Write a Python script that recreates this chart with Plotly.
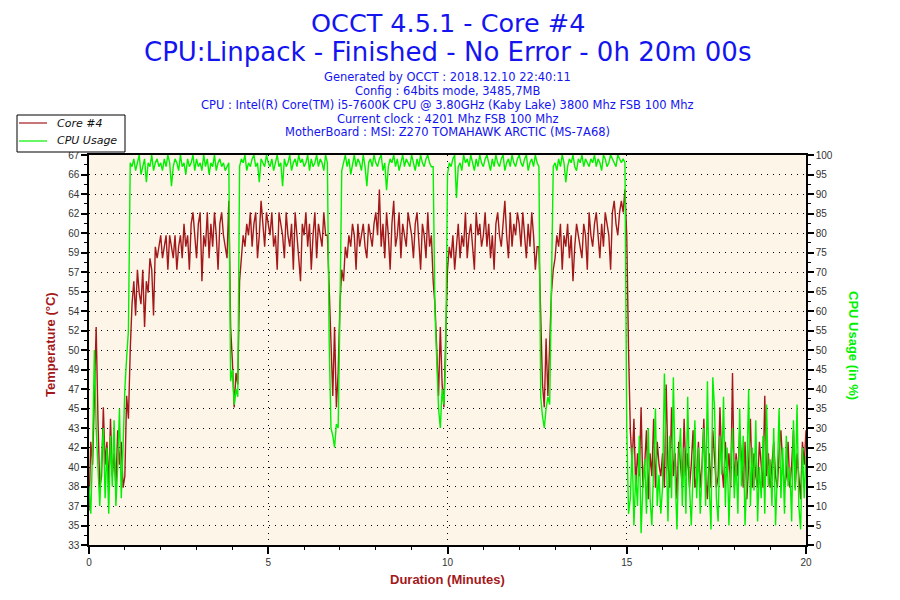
import plotly.graph_objects as go

# ---------------- data (one sample every 0.05 minute, one row = one minute) ----------------
SAMPLE_STEP_MIN = 0.05

core_temp = [
    36, 42, 40, 45, 52, 44, 38, 39, 45, 40, 42, 38, 44, 39, 41, 38, 43, 40, 42, 38,   # 0
    39, 46, 44, 50, 54, 56, 53, 57, 55, 54, 57, 52, 56, 55, 58, 57, 53, 59, 58, 59,   # 1
    60, 58, 59, 60, 57, 60, 59, 58, 60, 57, 59, 60, 58, 61, 59, 60, 57, 61, 62, 60,   # 2
    58, 61, 62, 56, 60, 59, 62, 58, 61, 59, 62, 60, 57, 61, 62, 60, 59, 58, 63, 52,   # 3
    49, 45, 48, 47, 56, 58, 60, 59, 61, 60, 62, 59, 61, 62, 58, 60, 63, 61, 59, 62,   # 4
    61, 60, 62, 59, 60, 57, 62, 61, 60, 58, 62, 60, 59, 61, 57, 62, 60, 58, 56, 61,   # 5
    60, 62, 59, 61, 57, 60, 62, 58, 61, 60, 59, 62, 60, 60, 55, 50, 46, 52, 45, 48,   # 6
    54, 57, 56, 59, 58, 60, 59, 61, 60, 57, 61, 59, 60, 61, 59, 58, 61, 60, 59, 61,   # 7
    62, 60, 64, 59, 61, 58, 62, 60, 57, 61, 63, 59, 60, 62, 58, 61, 60, 59, 62, 61,   # 8
    60, 58, 61, 62, 59, 57, 61, 60, 58, 62, 59, 60, 56, 54, 50, 46, 52, 47, 45, 51,   # 9
    57, 59, 58, 60, 57, 59, 61, 58, 60, 59, 62, 58, 60, 61, 59, 57, 62, 60, 61, 59,   # 10
    60, 62, 59, 61, 58, 60, 57, 61, 62, 60, 59, 61, 63, 60, 58, 62, 59, 61, 60, 62,   # 11
    61, 59, 62, 60, 58, 61, 59, 62, 60, 57, 59, 59, 52, 47, 45, 51, 46, 50, 55, 57,   # 12
    58, 60, 59, 61, 57, 60, 59, 61, 58, 60, 56, 59, 61, 60, 59, 58, 61, 60, 57, 62,   # 13
    60, 59, 61, 62, 60, 58, 61, 59, 62, 61, 60, 57, 62, 63, 61, 60, 62, 63, 62, 64,   # 14
    60, 50, 43, 40, 44, 38, 41, 39, 45, 38, 40, 43, 37, 41, 39, 44, 38, 42, 40, 39,   # 15
    41, 38, 47, 40, 38, 45, 39, 41, 37, 42, 40, 38, 44, 39, 41, 38, 40, 43, 38, 39,   # 16
    42, 38, 40, 44, 39, 37, 41, 38, 43, 40, 38, 39, 45, 40, 38, 42, 39, 41, 38, 48,   # 17
    38, 41, 39, 43, 40, 38, 42, 37, 40, 44, 38, 41, 39, 38, 42, 40, 38, 46, 39, 41,   # 18
    38, 40, 42, 39, 38, 41, 43, 40, 38, 39, 42, 38, 40, 43, 38, 41, 39, 37, 42, 40,   # 19
    43,                                                                               # 20
]

cpu_usage = [
    15, 8, 25, 50, 30, 18, 10, 22, 30, 12, 25, 8, 28, 15, 32, 10, 20, 35, 12, 25,     # 0
    40, 48, 55, 98, 97, 99, 96, 98, 100, 95, 97, 99, 93, 98, 97, 100, 96, 98, 99, 97,  # 1
    98, 96, 99, 97, 100, 98, 92, 97, 99, 98, 96, 100, 97, 98, 95, 99, 97, 98, 100, 96, # 2
    99, 97, 98, 96, 100, 97, 99, 95, 98, 97, 100, 96, 98, 99, 97, 98, 96, 97, 98, 42,  # 3
    45, 36, 40, 38, 97, 99, 98, 100, 96, 98, 97, 99, 100, 97, 98, 93, 99, 98, 97, 100, # 4
    98, 97, 99, 96, 98, 100, 97, 98, 92, 99, 97, 98, 100, 96, 98, 99, 97, 100, 98, 99, # 5
    97, 98, 100, 96, 99, 97, 98, 100, 97, 99, 98, 96, 100, 98, 52, 30, 28, 25, 31, 30, # 6
    60, 96, 98, 100, 97, 99, 95, 98, 100, 97, 99, 98, 96, 100, 97, 92, 98, 99, 97, 100,# 7
    98, 97, 99, 100, 96, 98, 91, 97, 99, 98, 100, 97, 99, 96, 98, 100, 97, 99, 98, 97, # 8
    100, 98, 96, 99, 97, 100, 98, 97, 99, 100, 98, 97, 97, 60, 45, 35, 30, 40, 36, 48, # 9
    95, 98, 97, 99, 100, 89, 97, 98, 96, 100, 98, 99, 97, 100, 98, 96, 99, 97, 100, 98,# 10
    97, 99, 100, 98, 96, 99, 97, 100, 98, 97, 99, 100, 96, 98, 99, 97, 100, 98, 97, 99,# 11
    100, 98, 97, 99, 100, 96, 98, 99, 97, 100, 98, 97, 38, 33, 30, 35, 38, 36, 70, 97, # 12
    98, 96, 99, 97, 100, 98, 93, 97, 99, 98, 100, 97, 96, 99, 98, 100, 97, 99, 98, 97, # 13
    99, 98, 100, 97, 99, 98, 96, 100, 99, 97, 98, 100, 99, 98, 97, 100, 99, 98, 99, 98,# 14
    30, 8, 12, 25, 5, 18, 10, 28, 3, 15, 22, 8, 30, 12, 5, 20, 35, 10, 18, 8,          # 15
    15, 44, 20, 6, 28, 12, 43, 18, 4, 22, 30, 10, 25, 8, 38, 15, 5, 20, 32, 12,        # 16
    25, 8, 18, 30, 10, 42, 15, 4, 43, 35, 12, 6, 28, 18, 38, 10, 25, 5, 20, 30,        # 17
    12, 22, 8, 35, 15, 28, 5, 18, 40, 10, 25, 14, 32, 6, 20, 12, 28, 8, 36, 15,        # 18
    22, 10, 30, 5, 18, 35, 12, 25, 8, 28, 15, 20, 6, 32, 14, 36, 10, 4, 25, 12,        # 19
    23,                                                                               # 20
]

series_names = ["Core #4", "CPU Usage"]

temp_tick_labels = ["33", "35", "37", "38", "40", "42", "43", "45", "47", "49", "50",
                    "52", "54", "55", "57", "59", "60", "62", "64", "66", "67"]
TEMP_MIN, TEMP_MAX = 33, 67

title_lines = ["OCCT 4.5.1 - Core #4",
               "CPU:Linpack - Finished - No Error - 0h 20m 00s"]
info_lines = ["Generated by OCCT : 2018.12.10 22:40:11",
              "Config : 64bits mode, 3485,7MB",
              "CPU : Intel(R) Core(TM) i5-7600K CPU @ 3.80GHz (Kaby Lake) 3800 Mhz FSB 100 Mhz",
              "Current clock : 4201 Mhz FSB 100 Mhz",
              "MotherBoard : MSI: Z270 TOMAHAWK ARCTIC (MS-7A68)"]

# ---------------- figure ----------------
minutes_t = [round(i * SAMPLE_STEP_MIN, 2) for i in range(len(core_temp))]
minutes_c = [round(i * SAMPLE_STEP_MIN, 2) for i in range(len(cpu_usage))]

n_int = len(temp_tick_labels) - 1
step = (TEMP_MAX - TEMP_MIN) / n_int
temp_tickvals = [TEMP_MIN + k * step for k in range(n_int + 1)]
temp_minor = [TEMP_MIN + (k + 0.5) * step for k in range(n_int)]

RED = "#A3191B"
GREEN = "#00F000"
BLUE = "#1414F0"
TICKFONT = dict(family="Liberation Sans", size=10, color="#333333")
DOTS = "1px,5px"

# page body has an 8px default margin: figure is drawn from (8, 8)
OFF = 8
W, H = 900 - OFF, 600 - OFF
PL, PR, PT, PB = 89 - OFF, 806 - OFF, 155 - OFF, 545 - OFF   # plot box in figure pixels

fig = go.Figure()
fig.add_trace(go.Scatter(x=minutes_t, y=core_temp, name=series_names[0], mode="lines",
                         line=dict(color=RED, width=1.4), yaxis="y", showlegend=False))
fig.add_trace(go.Scatter(x=minutes_c, y=cpu_usage, name=series_names[1], mode="lines",
                         line=dict(color=GREEN, width=1.4), yaxis="y2", showlegend=False))

def py(p):    # page pixel y -> paper y
    return (PB - (p - OFF)) / (PB - PT)

def px_(x):   # page pixel x -> paper x
    return ((x - OFF) - PL) / (PR - PL)

ann = []
ann.append(dict(text=title_lines[0], x=0.5, y=py(23), font=dict(family="DejaVu Sans", size=25.5, color=BLUE)))
ann.append(dict(text=title_lines[1], x=0.5, y=py(52), font=dict(family="DejaVu Sans", size=26, color=BLUE)))
for line, ypx in zip(info_lines, [77, 91, 105, 119, 132]):
    ann.append(dict(text=line, x=0.5, y=py(ypx), font=dict(family="DejaVu Sans", size=11.5, color=BLUE)))
ann.append(dict(text="<b>Duration (Minutes)</b>", x=0.5, y=py(579),
                font=dict(family="Liberation Sans", size=13, color=RED)))
ann.append(dict(text="<b>Temperature (°C)</b>", x=px_(50), y=py(345), textangle=-90,
                font=dict(family="Liberation Sans", size=13, color=RED)))
ann.append(dict(text="<b>CPU Usage (in %)</b>", x=px_(854), y=py(345), textangle=90,
                font=dict(family="Liberation Sans", size=13, color=GREEN)))
# legend entries (drawn as a boxed key in the top-left corner)
LEG_FONT = dict(family="DejaVu Sans", size=11, color="#111111", style="italic")
for name, ypx in zip(series_names, [123, 141]):
    ann.append(dict(text=name, x=px_(55), y=py(ypx), xanchor="left", font=LEG_FONT))
for a in ann:
    a.setdefault("xanchor", "center")
    a.update(xref="paper", yref="paper", showarrow=False, yanchor="middle")

shapes = [
    dict(type="rect", xref="paper", yref="paper", x0=px_(17), x1=px_(125), y0=py(152), y1=py(115),
         line=dict(color="black", width=1), fillcolor="white", layer="above"),
]
for color, ypx in zip([RED, GREEN], [123, 141]):
    shapes.append(dict(type="line", xref="paper", yref="paper", x0=px_(19), x1=px_(47), y0=py(ypx), y1=py(ypx),
                       line=dict(color=color, width=1.2), layer="above"))

fig.update_layout(
    width=W, height=H,
    margin=dict(l=PL, r=W - PR, t=PT, b=H - PB),
    paper_bgcolor="white", plot_bgcolor="#FDF6E8",
    annotations=ann, shapes=shapes,
    showlegend=False,
    xaxis=dict(range=[0, 20], tickmode="linear", tick0=0, dtick=5,
               ticks="outside", ticklen=7, tickwidth=1.5, tickcolor="black",
               minor=dict(dtick=1, ticks="outside", ticklen=3, tickwidth=1.2, tickcolor="black", showgrid=False),
               showgrid=True, gridcolor="black", gridwidth=1, griddash=DOTS,
               showline=True, linecolor="black", linewidth=1.5, mirror=True,
               zeroline=False, tickfont=TICKFONT),
    xaxis2=dict(range=[0, 20], overlaying="x", anchor="y", side="bottom", tickmode="linear", tick0=0, dtick=5,
                ticks="inside", ticklen=6, tickwidth=1.5, tickcolor="black",
                minor=dict(dtick=1, ticks="inside", ticklen=3, tickwidth=1.2, tickcolor="black", showgrid=False),
                showticklabels=False, showgrid=False, showline=False, zeroline=False),
    yaxis=dict(range=[TEMP_MIN, TEMP_MAX], tickmode="array", tickvals=temp_tickvals, ticktext=temp_tick_labels,
               ticks="outside", ticklen=6, tickwidth=1.5, tickcolor="black",
               minor=dict(tickvals=temp_minor, ticks="outside", ticklen=3, tickwidth=1.2, tickcolor="black", showgrid=False),
               showgrid=True, gridcolor="black", gridwidth=1, griddash=DOTS,
               showline=True, linecolor="black", linewidth=1.5, mirror=True,
               zeroline=False, tickfont=TICKFONT),
    yaxis2=dict(range=[0, 100], overlaying="y", side="right", tickmode="linear", tick0=0, dtick=5,
                ticks="outside", ticklen=6, tickwidth=1.5, tickcolor="black",
                minor=dict(dtick=2.5, ticks="outside", ticklen=3, tickwidth=1.2, tickcolor="black", showgrid=False),
                showgrid=False, showline=True, linecolor="black", linewidth=1.5,
                zeroline=False, tickfont=TICKFONT),
    yaxis3=dict(range=[TEMP_MIN, TEMP_MAX], overlaying="y", anchor="x", side="left",
                tickmode="array", tickvals=temp_tickvals,
                ticks="inside", ticklen=6, tickwidth=1.5, tickcolor="black",
                minor=dict(tickvals=temp_minor, ticks="inside", ticklen=3, tickwidth=1.2, tickcolor="black", showgrid=False),
                showticklabels=False, showgrid=False, showline=False, zeroline=False),
    yaxis4=dict(range=[0, 100], overlaying="y", anchor="x", side="right", tickmode="linear", tick0=0, dtick=5,
                ticks="inside", ticklen=6, tickwidth=1.5, tickcolor="black",
                minor=dict(dtick=2.5, ticks="inside", ticklen=3, tickwidth=1.2, tickcolor="black", showgrid=False),
                showticklabels=False, showgrid=False, showline=False, zeroline=False),
)

fig.write_html("out.html")
